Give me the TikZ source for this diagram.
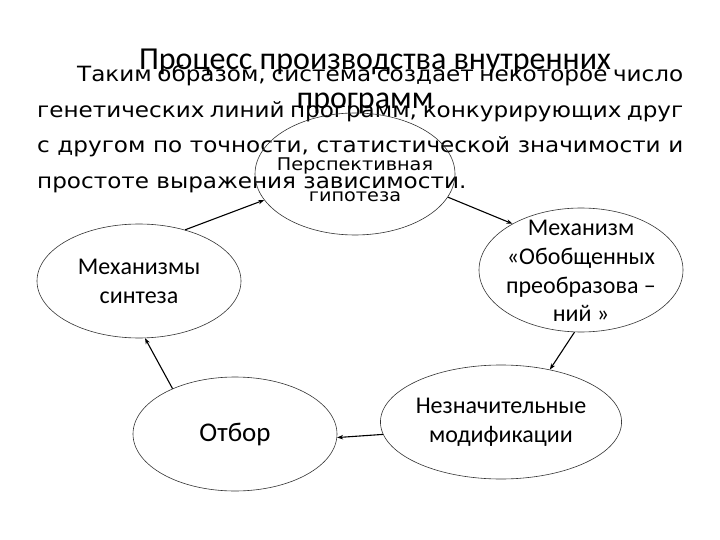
\documentclass[tikz,border=0pt]{standalone}
\usepackage{fontspec}
\setmainfont{Carlito}
\newfontfamily\bodyfont[FakeStretch=1.1]{DejaVu Sans}
\usetikzlibrary{shapes.geometric,arrows.meta}
\begin{document}
\begin{tikzpicture}[x=1pt,y=-1pt,
  oval/.style={draw=black!80,line width=0.6pt,ellipse,inner sep=0pt,align=center,font=\fontsize{24}{29}\selectfont},
  conn/.style={line width=1.1pt,-{Stealth[length=6pt,width=4.5pt]}},
  bodyline/.style={anchor=base west,inner sep=0pt,font=\bodyfont\fontsize{21}{27}\selectfont},
  smalltext/.style={anchor=base,inner sep=0pt,font=\bodyfont\fontsize{17.5}{21}\selectfont},
  titleline/.style={anchor=base,inner sep=0pt,font=\fontsize{32}{36}\selectfont}]
\useasboundingbox (0,0) rectangle (720,540);
% body paragraph
\node[bodyline] (b1) at (77,82) {\makebox[606pt][s]{Таким образом, система создает некоторое число}};
\node[bodyline] (b2) at (37,117.5) {\makebox[646pt][s]{генетических линий программ, конкурирующих друг}};
\node[bodyline] (b3) at (37,153) {\makebox[646pt][s]{с другом по точности, статистической значимости и}};
\node[bodyline] (b4) at (37,188.5) {простоте выражения зависимости.};
% title
\node[titleline] (t1) at (375,70) {Процесс производства внутренних};
\node[titleline] (t2) at (365,109) {программ};
% ellipses
\node[oval,minimum width=200pt,minimum height=122pt] (P) at (355,174) {};
\node[smalltext] (Pt1) at (355,171) {Перспективная};
\node[smalltext] (Pt2) at (355,202) {гипотеза};
\node[oval,minimum width=204pt,minimum height=114pt] (S) at (139,281) {Механизмы\\синтеза};
\node[oval,minimum width=204pt,minimum height=114pt,font=\fontsize{27}{32}\selectfont] (O) at (235,434) {Отбор};
\node[oval,minimum width=204pt,minimum height=124pt] (M) at (581,270) {};
\node[align=center,inner sep=0pt,font=\fontsize{24}{28.7}\selectfont] (Mt) at (581,271) {Механизм\\«Обобщенных\\преобразова –\\ний »};
\node[oval,minimum width=204pt,minimum height=114pt] (N) at (501,422) {Незначительные\\модификации};
% connectors
\draw[conn] (S.48.6) -- (P.196);
\draw[conn] (P.-14) -- (M.146.3);
\draw[conn] (M.264) -- (N.47.4);
\draw[conn] (N.186.8) -- (O.-2.2);
\draw[conn] (O.144) -- (S.-84);
\end{tikzpicture}
\end{document}
